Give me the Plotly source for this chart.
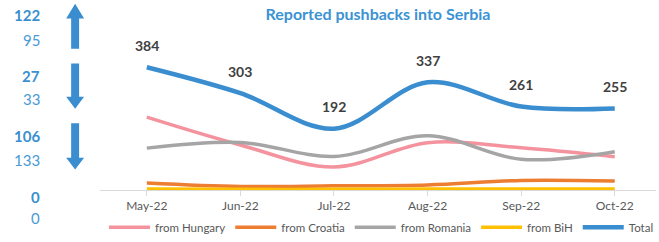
import plotly.graph_objects as go

months = ["May-22", "Jun-22", "Jul-22", "Aug-22", "Sep-22", "Oct-22"]
from_hungary = [228, 141, 72, 148, 132, 104]
from_croatia = [22, 11, 13, 16, 30, 28]
from_romania = [131, 149, 105, 170, 96, 120]
from_bih = [3, 2, 2, 3, 3, 3]
total = [384, 303, 192, 337, 261, 255]

side_bold = ["122", "27", "106", "0"]
side_plain = ["95", "33", "133", "0"]

series = [
    ("from Hungary", from_hungary, "#F4939E", 3.5),
    ("from Croatia", from_croatia, "#ED7D31", 3.5),
    ("from Romania", from_romania, "#A5A5A5", 3.5),
    ("from BiH", from_bih, "#FFC000", 3.5),
    ("Total", total, "#3A8DCF", 4.5),
]

fig = go.Figure()
xs = list(range(len(months)))
for name, vals, col, w in series:
    fig.add_trace(go.Scatter(
        x=xs, y=vals, name=name, mode="lines",
        line=dict(color=col, width=w, shape="spline", smoothing=1.0),
        hoverinfo="skip",
    ))

for i, v in enumerate(total):
    fig.add_annotation(x=i, y=v, text=str(v), showarrow=False, yshift=22,
                       font=dict(family="Lato", size=14, color="#404040", weight="bold"))

# layout geometry
W, H = 659, 242
L, R, T, B = 100, 0, 40, 49
PW, PH = W - L - R, H - T - B


def px(x):
    return (x - L) / PW


def py(y):
    return (H - B - y) / PH


side_y_bold = [15, 77, 138, 200]
side_y_plain = [40, 100, 162, 222]
for tb, tp, yb, yp in zip(side_bold, side_plain, side_y_bold, side_y_plain):
    fig.add_annotation(xref="paper", yref="paper", x=px(42), y=py(yb), text=tb,
                       showarrow=False, xanchor="right", yanchor="middle",
                       font=dict(family="Lato", size=15, color="#3A8FD0", weight="bold"))
    fig.add_annotation(xref="paper", yref="paper", x=px(42), y=py(yp), text=tp,
                       showarrow=False, xanchor="right", yanchor="middle",
                       font=dict(family="Lato", size=15, color="#4A9AD6"))


def arrow_path(cx, tip, head_base, tail):
    pts = [(cx, tip), (cx + 9, head_base), (cx + 4, head_base), (cx + 4, tail),
           (cx - 4, tail), (cx - 4, head_base), (cx - 9, head_base)]
    return "M " + " L ".join(f"{px(a):.5f},{py(b):.5f}" for a, b in pts) + " Z"


arrows = [(75, 3, 18, 49), (75, 110, 98, 64), (75, 172, 160, 125)]
for cx, tip, hb, tail in arrows:
    fig.add_shape(type="path", xref="paper", yref="paper",
                  path=arrow_path(cx, tip, hb, tail),
                  fillcolor="#3A8DCF", line=dict(width=0), layer="above")

fig.update_layout(
    width=W, height=H,
    margin=dict(l=L, r=R, t=T, b=B),
    paper_bgcolor="white", plot_bgcolor="white",
    title=dict(text="Reported pushbacks into Serbia", x=0.5, xref="paper",
               y=1 - 14 / H, yanchor="middle", xanchor="center",
               font=dict(family="Lato", size=16, color="#3B93D3", weight="bold")),
    xaxis=dict(range=[-0.5, -0.5 + PW / 94.1], tickmode="array", tickvals=xs,
               ticktext=months, showgrid=False, zeroline=False,
               showline=True, linecolor="#D9D9D9", linewidth=1,
               ticks="outside", tickson="boundaries", ticklen=5, tickcolor="#D9D9D9",
               tickfont=dict(family="Lato", size=12, color="#595959")),
    yaxis=dict(range=[0, PH / 0.326], visible=False, showgrid=False, zeroline=False),
    showlegend=True,
    legend=dict(orientation="h", x=px(383), xanchor="center", y=py(231), yanchor="middle",
                font=dict(family="Lato", size=11.5, color="#595959"),
                bgcolor="rgba(0,0,0,0)", itemwidth=41, tracegroupgap=0),
)

fig.write_html("out.html", config={"displayModeBar": False},
               post_script="document.body.style.margin='0';")
